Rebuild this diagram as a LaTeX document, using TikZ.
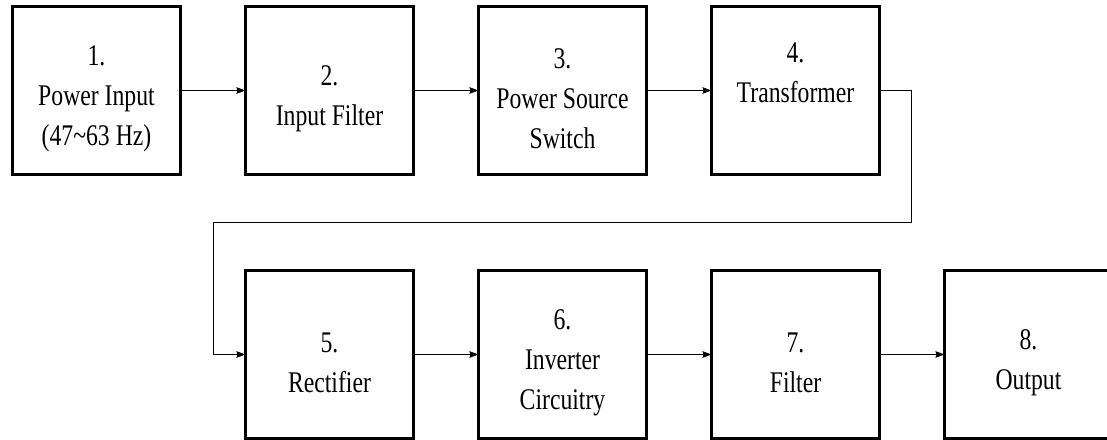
\documentclass[tikz,border=0pt]{standalone}
\usepackage{fontspec}
\setmainfont{Liberation Serif}
\newfontfamily\boxfont[FakeStretch=0.79]{Liberation Serif}
\usetikzlibrary{arrows.meta,positioning,calc}
\newcommand{\lowered}{\rule{0pt}{36pt}}
\tikzset{>={Stealth[length=9pt,width=6.5pt,inset=1pt]},
 every node/.style={font=\boxfont\fontsize{30}{40}\selectfont},
 stage/.style={draw,line width=2.6pt,minimum width=168pt,minimum height=168pt,
 inner sep=0pt,outer sep=0pt,align=center},
 link/.style={->,line width=1.2pt}}
\begin{document}
\begin{tikzpicture}[node distance=65pt]
\useasboundingbox (0,0) rectangle (1107pt,-439pt);
\node[stage] (input) at (96.5pt,-90.5pt) {\lowered 1.\\Power Input\\(47\textasciitilde 63 Hz)};
\node[stage,right=of input] (ifilter) {\lowered 2.\\Input Filter};
\node[stage,right=of ifilter] (switch) {\lowered 3.\\Power Source\\Switch};
\node[stage,right=of switch] (trans) {\lowered 4.\\Transformer\\\strut};
\node[stage,below=96pt of ifilter] (rect) {\lowered 5.\\Rectifier};
\node[stage,right=of rect] (inv) {\lowered 6.\\Inverter\\Circuitry};
\node[stage,right=of inv] (ofilter) {\lowered 7.\\Filter};
\node[stage,right=of ofilter] (output) {\lowered 8.\\Output};
\draw[link] (input) -- (ifilter);
\draw[link] (ifilter) -- (switch);
\draw[link] (switch) -- (trans);
\draw[link] (trans.east) -- ++(32pt,0) |- ($(trans.south)!.5!(rect.north)$)
 -| ($(rect.west)+(-32pt,0)$) -- (rect.west);
\draw[link] (rect) -- (inv);
\draw[link] (inv) -- (ofilter);
\draw[link] (ofilter) -- (output);
\end{tikzpicture}
\end{document}
